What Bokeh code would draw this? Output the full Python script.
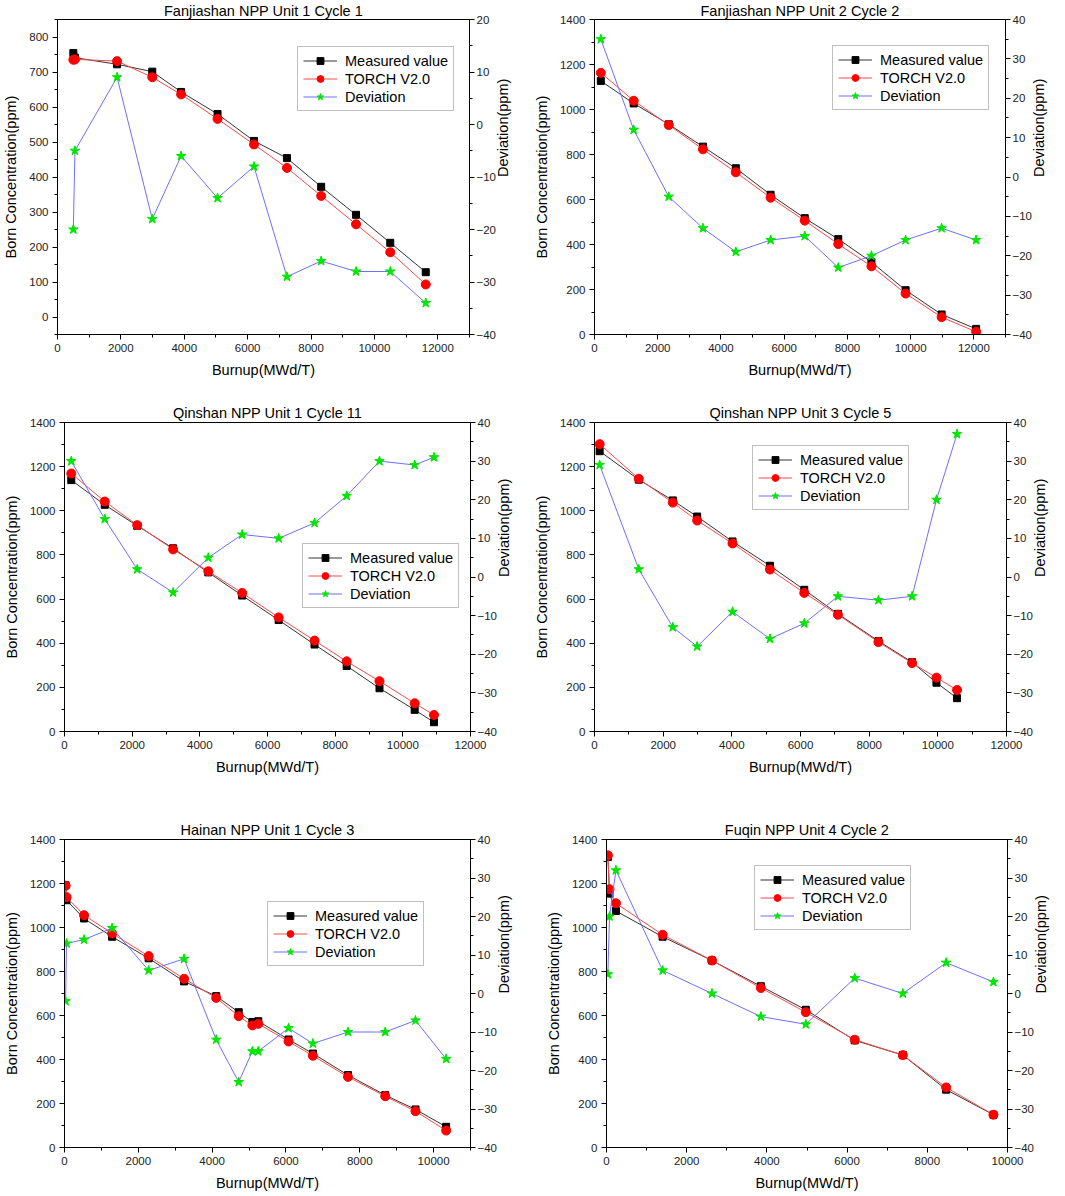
import math
from bokeh.plotting import figure
from bokeh.models import Range1d, LinearAxis, SingleIntervalTicker, Legend, LegendItem
from bokeh.layouts import column, row
from bokeh.embed import file_html
from bokeh.resources import INLINE

FONT = "Liberation Sans"

titles = ["Fanjiashan NPP Unit 1 Cycle 1", "Fanjiashan NPP Unit 2 Cycle 2",
          "Qinshan NPP Unit 1 Cycle 11", "Qinshan NPP Unit 3 Cycle 5",
          "Hainan NPP Unit 1 Cycle 3", "Fuqin NPP Unit 4 Cycle 2"]
series_names = ["Measured value", "TORCH V2.0", "Deviation"]

p1_burnup = [500, 550, 1880, 2990, 3900, 5050, 6200, 7240, 8320, 9420, 10500, 11620]
p1_measured = [754, 741, 722, 701, 643, 580, 503, 454, 372, 292, 212, 128]
p1_torch = [735, 736, 731, 685, 636, 566, 493, 426, 346, 265, 185, 93]
p1_deviation = [-20, -5, 9, -18, -6, -14, -8, -29, -26, -28, -28, -34]

p2_burnup = [200, 1240, 2350, 3430, 4470, 5570, 6650, 7710, 8760, 9840, 10980, 12070]
p2_measured = [1127, 1027, 934, 835, 739, 621, 517, 424, 322, 197, 89, 25]
p2_torch = [1163, 1039, 931, 823, 721, 608, 506, 402, 303, 182, 77, 12]
p2_deviation = [35, 12, -5, -13, -19, -16, -15, -23, -20, -16, -13, -16]

p3_burnup = [200, 1190, 2150, 3210, 4250, 5250, 6330, 7390, 8340, 9310, 10350, 10920]
p3_measured = [1139, 1027, 932, 830, 721, 616, 505, 394, 297, 196, 98, 42]
p3_torch = [1169, 1042, 935, 825, 726, 628, 517, 412, 318, 228, 128, 75]
p3_deviation = [30, 15, 2, -4, 5, 11, 10, 14, 21, 30, 29, 31]

p4_burnup = [150, 1290, 2280, 2990, 4020, 5110, 6110, 7090, 8270, 9250, 9960, 10560]
p4_measured = [1270, 1141, 1047, 974, 861, 751, 642, 533, 410, 314, 221, 151]
p4_torch = [1302, 1145, 1037, 956, 852, 734, 628, 529, 405, 310, 244, 188]
p4_deviation = [29, 2, -13, -18, -9, -16, -12, -5, -6, -5, 20, 37]

p5_burnup = [30, 55, 530, 1290, 2280, 3240, 4110, 4720, 5090, 5250, 6070, 6730, 7680, 8690, 9510, 10340]
p5_measured = [1192, 1124, 1041, 958, 860, 755, 688, 615, 570, 574, 491, 427, 329, 238, 173, 94]
p5_torch = [1190, 1138, 1056, 973, 870, 767, 680, 597, 555, 562, 482, 417, 321, 233, 165, 77]
p5_deviation = [-2, 13, 14, 17, 6, 9, -12, -23, -15, -15, -9, -13, -10, -10, -7, -17]

p6_burnup = [35, 75, 235, 1400, 2630, 3850, 4970, 6190, 7390, 8470, 9650]
p6_measured = [1321, 1154, 1075, 958, 850, 733, 626, 487, 420, 263, 149]
p6_torch = [1328, 1174, 1110, 967, 850, 725, 615, 490, 420, 273, 149]
p6_deviation = [5, 20, 32, 6, 0, -6, -8, 4, 0, 8, 3]

x_label = "Burnup(MWd/T)"
y_label = "Born Concentration(ppm)"
dev_label = "Deviation(ppm)"

LEG_H = 63


def style_axis(ax, label, label_standoff, tick_standoff):
    ax.axis_label = label
    ax.axis_label_text_font = FONT
    ax.axis_label_text_font_size = "14.5px"
    ax.axis_label_text_font_style = "normal"
    ax.axis_label_text_color = "black"
    ax.axis_label_standoff = label_standoff
    ax.major_label_text_font = FONT
    ax.major_label_text_font_size = "11.5px"
    ax.major_label_text_color = "#222222"
    ax.major_label_standoff = tick_standoff
    ax.axis_line_color = "black"
    ax.major_tick_line_color = "black"
    ax.minor_tick_line_color = "black"
    ax.major_tick_in = 0
    ax.major_tick_out = 5
    ax.minor_tick_in = 0
    ax.minor_tick_out = 3


def panel(title, burnup, measured, torch, deviation, xmax, yr, ystep, dr,
          origin, size, frame, legend_tl, title_standoff):
    ox, oy = origin
    w, h = size
    fl, ft, fr, fb = frame
    bl, bt, br, bb = fl - ox, ft - oy, ox + w - fr, oy + h - fb
    p = figure(width=w, height=h, output_backend="svg", toolbar_location=None,
               x_range=Range1d(0, xmax), y_range=Range1d(*yr),
               min_border_left=bl, min_border_right=br,
               min_border_top=bt, min_border_bottom=bb, title=title)
    p.title.text_font = FONT
    p.title.text_font_size = "14.5px"
    p.title.text_font_style = "normal"
    p.title.text_color = "black"
    p.title.align = "center"
    p.title.offset = -10
    p.title.standoff = title_standoff
    p.extra_y_ranges = {"dev": Range1d(*dr)}
    p.xgrid.visible = False
    p.ygrid.visible = False
    p.outline_line_color = "black"
    p.outline_line_alpha = 1.0
    p.background_fill_color = "white"
    p.border_fill_color = "white"

    xa = p.xaxis[0]
    ya = p.yaxis[0]
    xa.ticker = SingleIntervalTicker(interval=2000, num_minor_ticks=2)
    ya.ticker = SingleIntervalTicker(interval=ystep, num_minor_ticks=2)
    style_axis(xa, x_label, 7, 4)
    style_axis(ya, y_label, 7, 4)
    ra = LinearAxis(y_range_name="dev",
                    ticker=SingleIntervalTicker(interval=10, num_minor_ticks=2))
    style_axis(ra, dev_label, 4, 2)
    try:
        ra.axis_label_orientation = math.pi / 2
        ra.axis_label_text_align = "center"
    except Exception:
        pass
    p.add_layout(ra, "right")

    r1l = p.line(burnup, measured, line_color="black", line_width=1, line_alpha=0.8)
    r1m = p.scatter(burnup, measured, marker="square", size=7, color="black")
    r2l = p.line(burnup, torch, line_color="#ff4a4a", line_width=1)
    r2m = p.scatter(burnup, torch, marker="circle", size=9, color="red")
    r3l = p.line(burnup, deviation, line_color="#6e6eff", line_width=1, y_range_name="dev")
    r3m = p.scatter(burnup, deviation, marker="star", size=10, color="#00e600",
                    y_range_name="dev")

    lx = legend_tl[0] - fl
    ly = fb - legend_tl[1] - LEG_H
    legend = Legend(items=[LegendItem(label=series_names[0], renderers=[r1l, r1m]),
                           LegendItem(label=series_names[1], renderers=[r2l, r2m]),
                           LegendItem(label=series_names[2], renderers=[r3l, r3m])],
                    location=(lx, ly))
    legend.label_text_font = FONT
    legend.label_text_font_size = "14.5px"
    legend.label_text_color = "black"
    legend.glyph_width = 34
    legend.glyph_height = 17
    legend.label_height = 17
    legend.label_standoff = 8
    legend.spacing = 1
    legend.padding = 5
    legend.margin = 0
    legend.border_line_color = "#808080"
    legend.border_line_width = 1.5
    legend.background_fill_color = "white"
    legend.background_fill_alpha = 1.0
    p.add_layout(legend)
    return p


p1 = panel(titles[0], p1_burnup, p1_measured, p1_torch, p1_deviation, 13000, (-50, 850), 100,
           (-40, 20), (0, 0), (530, 398), (52, 19, 469, 334), (292, 48), 1)
p2 = panel(titles[1], p2_burnup, p2_measured, p2_torch, p2_deviation, 13000, (0, 1400), 200,
           (-40, 40), (530, 0), (534, 398), (591, 19, 1005, 335), (829, 48), 1)
p3 = panel(titles[2], p3_burnup, p3_measured, p3_torch, p3_deviation, 12000, (0, 1400), 200,
           (-40, 40), (0, 398), (530, 397), (62, 422, 470, 731), (300, 545), 4)
p4 = panel(titles[3], p4_burnup, p4_measured, p4_torch, p4_deviation, 12000, (0, 1400), 200,
           (-40, 40), (530, 398), (534, 397), (593, 419, 1006, 733), (751, 449), 4)
p5 = panel(titles[4], p5_burnup, p5_measured, p5_torch, p5_deviation, 11000, (0, 1400), 200,
           (-40, 40), (0, 795), (530, 400), (59, 839, 470, 1147), (262, 903), 4)
p6 = panel(titles[5], p6_burnup, p6_measured, p6_torch, p6_deviation, 10000, (0, 1400), 200,
           (-40, 40), (530, 795), (534, 400), (606, 835, 1007, 1148), (754, 868), 4)

layout = column(row(p1, p2), row(p3, p4), row(p5, p6))
open("out.html", "w").write(file_html(layout, INLINE))
